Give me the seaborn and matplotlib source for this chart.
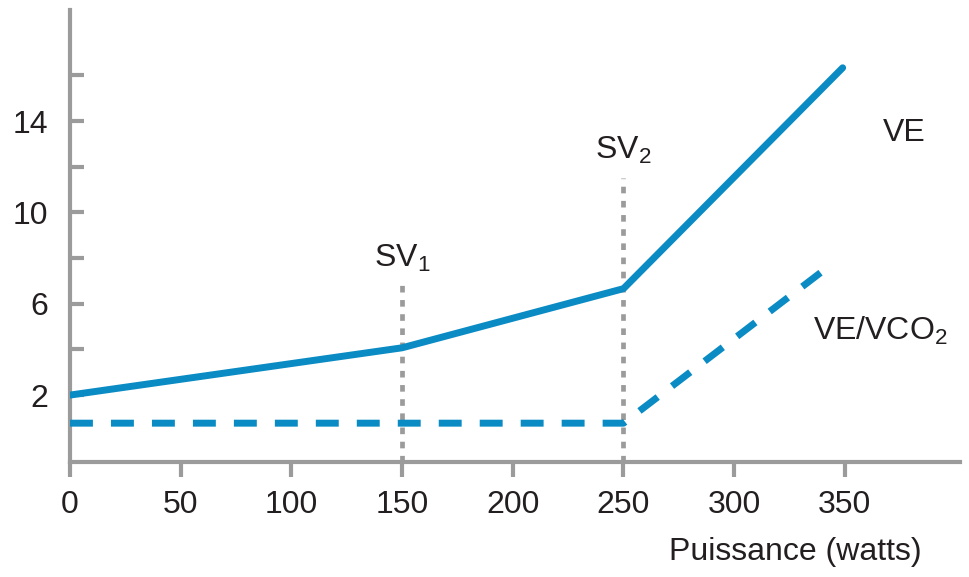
import matplotlib
matplotlib.use("Agg")
import matplotlib.pyplot as plt
import seaborn as sns
import pandas as pd

# ---- data ----
ve_x = [0, 150, 250, 349]
ve_y = [2.0, 4.07, 6.66, 16.33]
vco2_x = [0, 250, 342]
vco2_y = [0.77, 0.77, 7.58]
sv_x = [150, 250]
sv_top = [6.9, 11.5]
sv_labels = ["SV$_{\\mathregular{1}}$", "SV$_{\\mathregular{2}}$"]
x_ticks = [0, 50, 100, 150, 200, 250, 300, 350]
y_major = [2, 6, 10, 14]
y_minor = [4, 8, 12, 16]
x_label = "Puissance (watts)"

sns.set_theme(style="white")
plt.rcParams['font.family'] = ['Liberation Sans', 'DejaVu Sans']
plt.rcParams['mathtext.fontset'] = 'custom'
plt.rcParams['mathtext.rm'] = 'Liberation Sans'

BLUE = "#0a8bc4"
GREY = "#9b9b9b"
TXT = "#231f20"
FS = 23

fig = plt.figure(figsize=(9.69, 5.77), dpi=100)
ax = fig.add_axes([70/969, 1-462/577, (960-70)/969, (462-10)/577])

df_ve = pd.DataFrame({"x": ve_x, "y": ve_y})
df_v2 = pd.DataFrame({"x": vco2_x, "y": vco2_y})

for sx, st in zip(sv_x, sv_top):
    ax.plot([sx, sx], [-0.93, st], color=GREY, lw=3.4, linestyle=(0, (1.4, 1.6)),
            solid_capstyle='butt', zorder=1)

sns.lineplot(data=df_ve, x="x", y="y", ax=ax, color=BLUE, lw=5, sort=False, zorder=3)
sns.lineplot(data=df_v2, x="x", y="y", ax=ax, color=BLUE, lw=5, sort=False, zorder=3)
ax.lines[-1].set_linestyle((0, (3.3, 2.6)))
ax.lines[-1].set_dash_capstyle('butt')

ax.set_xlim(0, 402)
ax.set_ylim(-0.93, 18.86)
ax.set_xticks(x_ticks)
ax.set_xticklabels([str(t) for t in x_ticks])
ax.set_yticks(y_major)
ax.set_yticklabels([str(t) for t in y_major])
ax.set_yticks(y_minor, minor=True)

for s in ["top", "right"]:
    ax.spines[s].set_visible(False)
for s in ["left", "bottom"]:
    ax.spines[s].set_color(GREY)
    ax.spines[s].set_linewidth(3)

ax.tick_params(axis='x', direction='out', length=11, width=3, color=GREY,
               labelsize=FS, labelcolor=TXT, pad=9, bottom=True)
ax.tick_params(axis='y', which='both', direction='in', length=10, width=3, color=GREY,
               labelsize=FS, labelcolor=TXT, pad=16, left=True)
ax.set_xlabel("")
ax.set_ylabel("")

ax.text(150, 7.98, sv_labels[0], ha='center', va='center', fontsize=FS, color=TXT)
ax.text(250, 12.73, sv_labels[1], ha='center', va='center', fontsize=FS, color=TXT)
ax.text(377, 13.47, "VE", ha='center', va='center', fontsize=FS, color=TXT)
ax.text(366, 4.81, "VE/VCO$_{\\mathregular{2}}$", ha='center', va='center', fontsize=FS, color=TXT)
fig.text(795/969, 1-552/577, x_label, ha='center', va='center', fontsize=FS, color=TXT)

fig.savefig("out.png", dpi=100, facecolor='white')
